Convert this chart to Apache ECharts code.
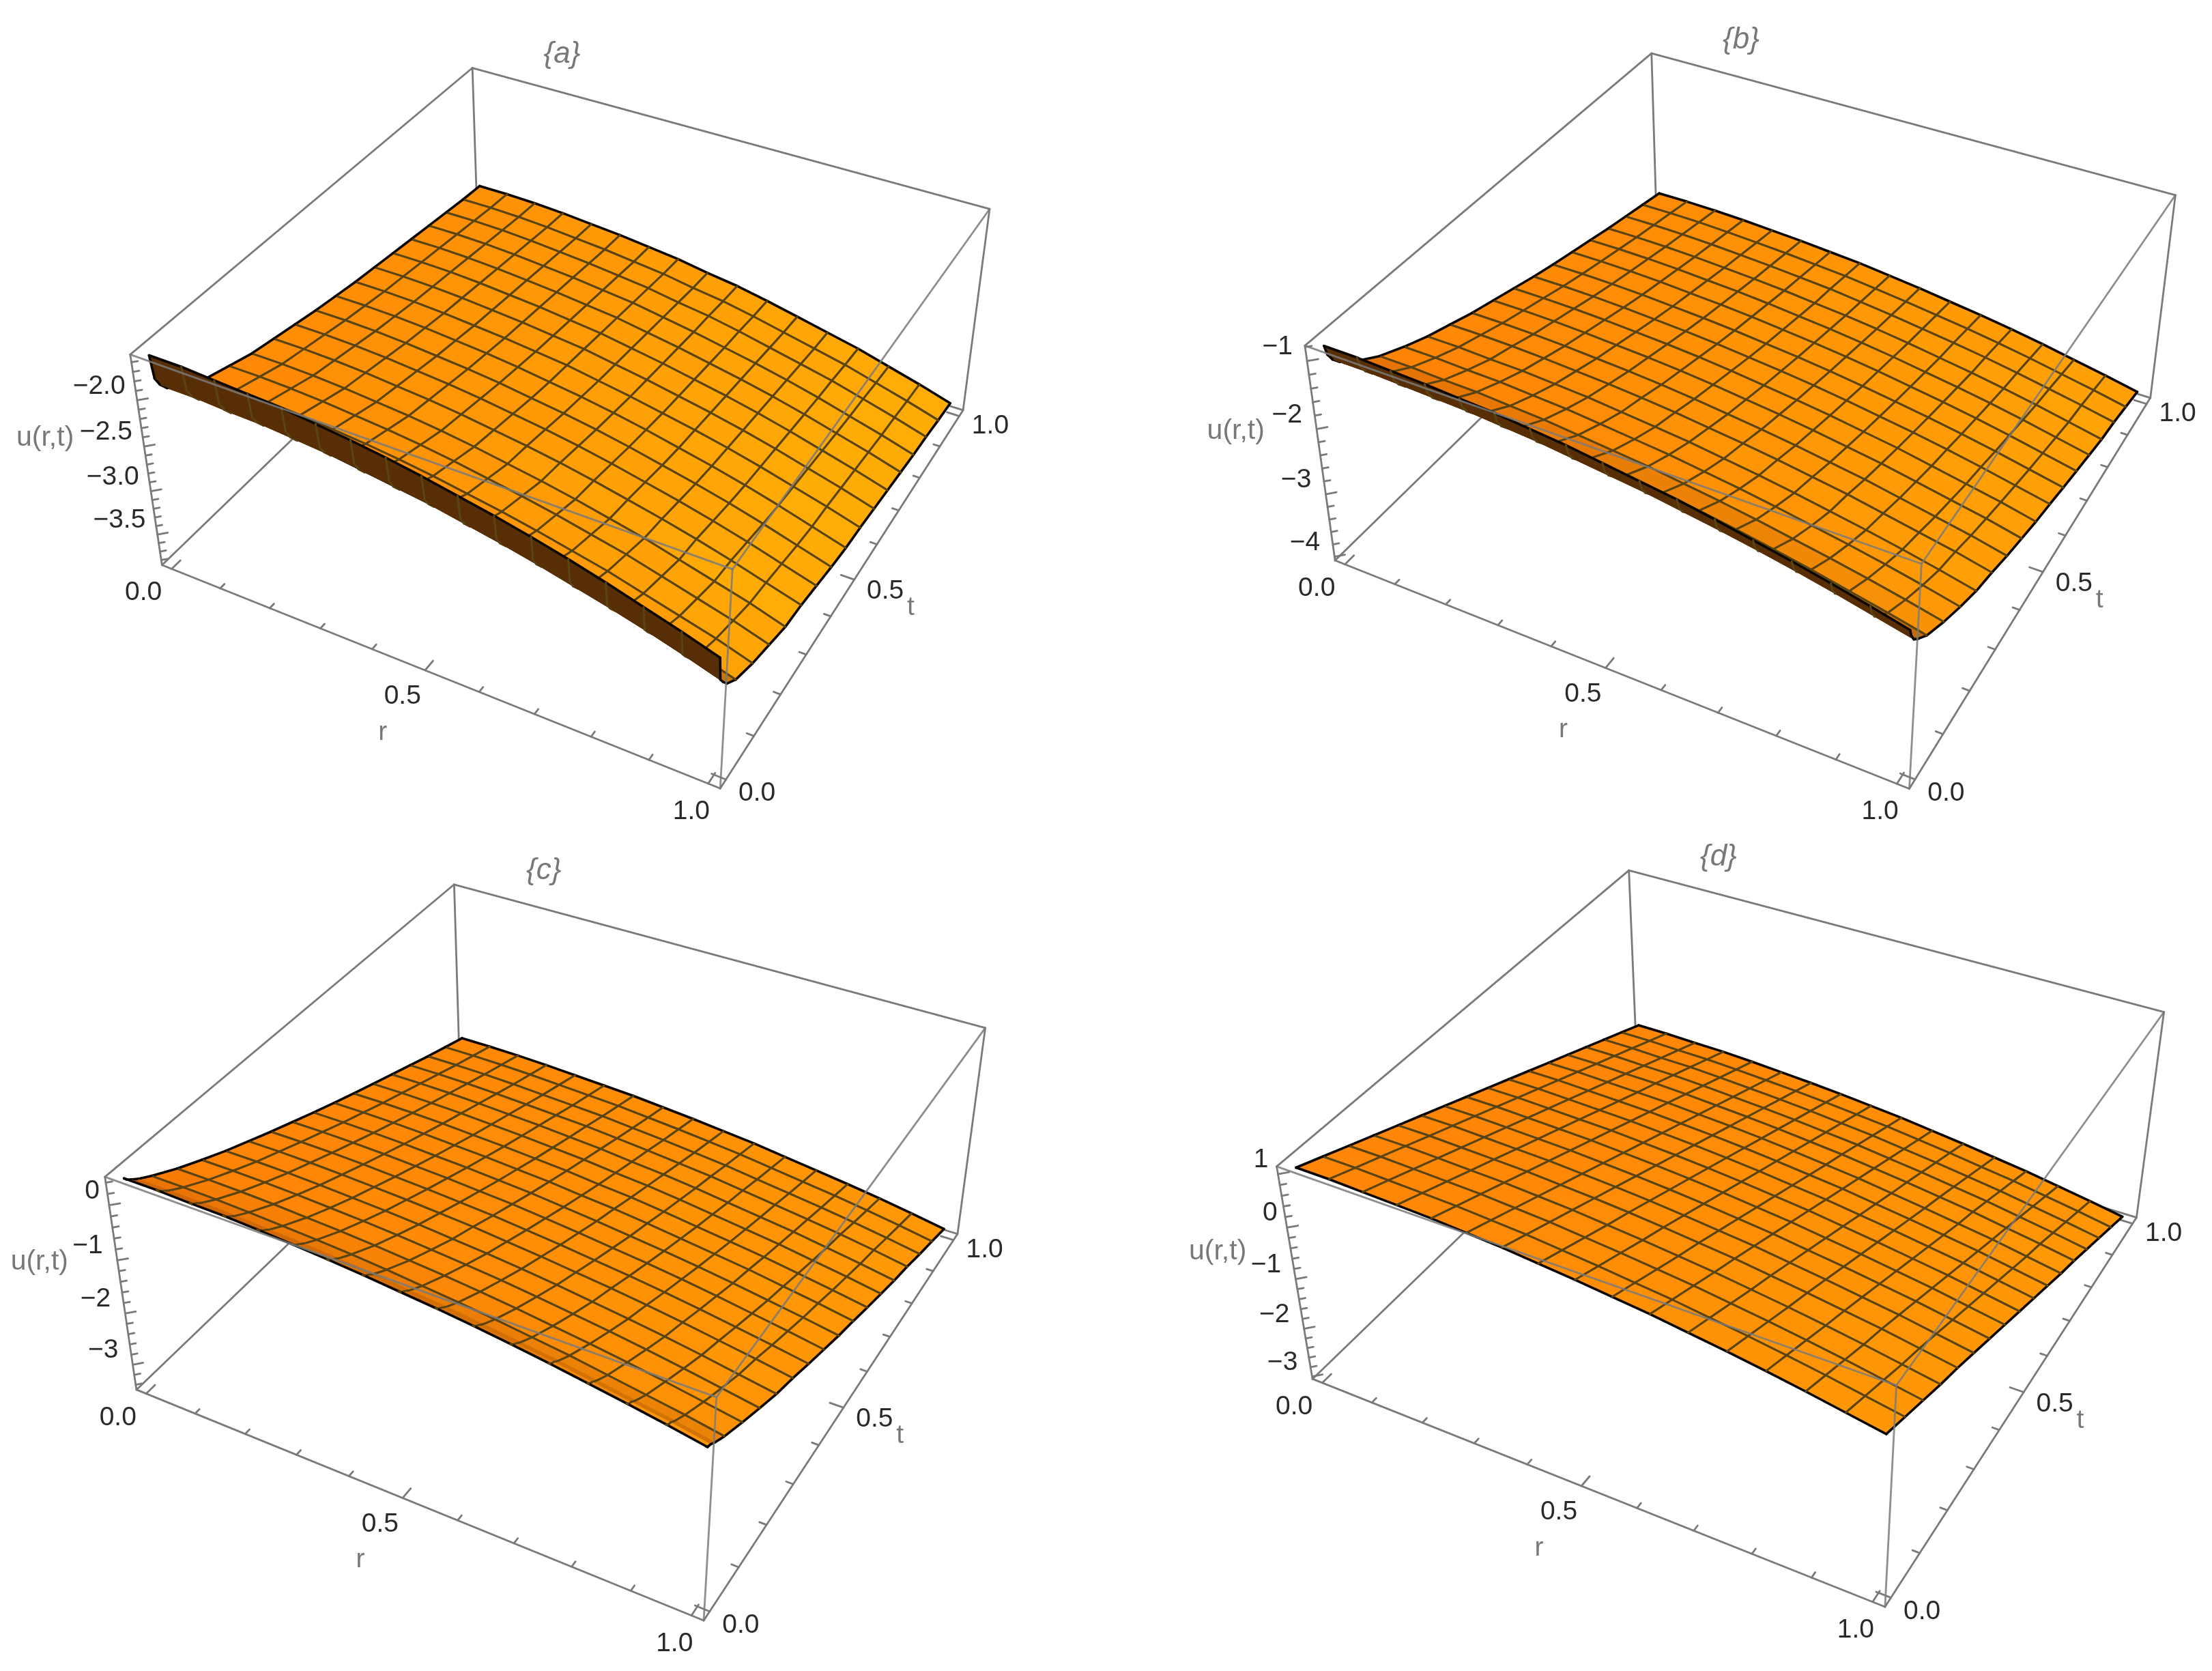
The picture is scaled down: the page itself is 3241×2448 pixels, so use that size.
<!DOCTYPE html>
<html><head><meta charset="utf-8">
<style>html,body{margin:0;padding:0;background:#fff}#c{width:3241px;height:2448px}</style>
<script src="https://cdn.jsdelivr.net/npm/echarts@6/dist/echarts.min.js"></script>
</head><body><div id="c"></div>
<script>
// ---------- data ----------
const rValues=[0,.0625,.125,.1875,.25,.3125,.375,.4375,.5,.5625,.625,.6875,.75,.8125,.875,.9375,1];
const tFine=[0,.005,.015,.03,.0625,.125,.1875,.25,.3125,.375,.4375,.5,.5625,.625,.6875,.75,.8125,.875,.9375,1];
const tMesh=[0,.0625,.125,.1875,.25,.3125,.375,.4375,.5,.5625,.625,.6875,.75,.8125,.875,.9375,1];
const uA=[
[-1.56,-1.56,-1.58,-1.60,-1.62,-1.66,-1.70,-1.75,-1.81,-1.88,-1.95,-2.03,-2.12,-2.22,-2.33,-2.44,-2.56],
[-1.82,-1.82,-1.84,-1.86,-1.88,-1.92,-1.96,-2.01,-2.07,-2.14,-2.21,-2.29,-2.38,-2.48,-2.59,-2.70,-2.82],
[-1.92,-1.92,-1.94,-1.95,-1.98,-2.01,-2.06,-2.11,-2.16,-2.23,-2.30,-2.38,-2.47,-2.56,-2.66,-2.77,-2.89],
[-2.01,-2.01,-2.03,-2.04,-2.07,-2.10,-2.15,-2.20,-2.25,-2.32,-2.39,-2.47,-2.56,-2.65,-2.75,-2.86,-2.98],
[-2.12,-2.12,-2.14,-2.15,-2.18,-2.21,-2.26,-2.31,-2.36,-2.43,-2.50,-2.58,-2.67,-2.76,-2.86,-2.97,-3.09],
[-2.25,-2.25,-2.26,-2.28,-2.31,-2.34,-2.38,-2.43,-2.49,-2.55,-2.62,-2.70,-2.78,-2.88,-2.98,-3.08,-3.20],
[-2.33,-2.33,-2.34,-2.36,-2.39,-2.42,-2.46,-2.51,-2.57,-2.63,-2.70,-2.78,-2.86,-2.96,-3.06,-3.16,-3.28],
[-2.41,-2.41,-2.42,-2.44,-2.47,-2.50,-2.54,-2.59,-2.65,-2.71,-2.78,-2.86,-2.94,-3.04,-3.14,-3.24,-3.36],
[-2.46,-2.46,-2.47,-2.49,-2.52,-2.55,-2.59,-2.64,-2.69,-2.75,-2.82,-2.90,-2.98,-3.07,-3.17,-3.28,-3.39],
[-2.51,-2.51,-2.52,-2.54,-2.57,-2.60,-2.64,-2.69,-2.74,-2.80,-2.87,-2.95,-3.03,-3.12,-3.22,-3.33,-3.44],
[-2.56,-2.56,-2.57,-2.59,-2.62,-2.65,-2.69,-2.74,-2.79,-2.85,-2.92,-3.00,-3.08,-3.17,-3.27,-3.38,-3.49],
[-2.60,-2.60,-2.61,-2.63,-2.66,-2.69,-2.73,-2.78,-2.83,-2.89,-2.96,-3.04,-3.12,-3.21,-3.31,-3.42,-3.53],
[-2.64,-2.64,-2.65,-2.67,-2.70,-2.73,-2.77,-2.81,-2.87,-2.93,-3.00,-3.07,-3.15,-3.24,-3.34,-3.44,-3.55],
[-2.67,-2.67,-2.68,-2.70,-2.73,-2.76,-2.80,-2.84,-2.90,-2.96,-3.03,-3.10,-3.18,-3.27,-3.37,-3.47,-3.58],
[-2.70,-2.70,-2.71,-2.73,-2.76,-2.79,-2.83,-2.87,-2.93,-2.99,-3.06,-3.13,-3.21,-3.30,-3.40,-3.50,-3.61],
[-2.73,-2.73,-2.74,-2.76,-2.79,-2.82,-2.86,-2.90,-2.96,-3.02,-3.09,-3.16,-3.24,-3.33,-3.43,-3.53,-3.64],
[-2.76,-2.76,-2.77,-2.79,-2.82,-2.85,-2.89,-2.93,-2.99,-3.05,-3.12,-3.19,-3.27,-3.36,-3.46,-3.56,-3.67],
[-2.79,-2.79,-2.80,-2.82,-2.85,-2.88,-2.92,-2.96,-3.02,-3.07,-3.14,-3.22,-3.30,-3.38,-3.48,-3.58,-3.69],
[-2.82,-2.82,-2.83,-2.85,-2.88,-2.91,-2.95,-2.99,-3.05,-3.10,-3.17,-3.25,-3.33,-3.41,-3.51,-3.61,-3.72],
[-2.84,-2.84,-2.85,-2.87,-2.90,-2.93,-2.97,-3.01,-3.07,-3.12,-3.19,-3.27,-3.35,-3.43,-3.53,-3.63,-3.74]];
const uB=[
[-.83,-.83,-.85,-.87,-.90,-.93,-.98,-1.03,-1.10,-1.17,-1.24,-1.33,-1.43,-1.53,-1.64,-1.76,-1.89],
[-.98,-.98,-1.00,-1.02,-1.04,-1.08,-1.12,-1.18,-1.24,-1.30,-1.38,-1.46,-1.55,-1.65,-1.76,-1.88,-2.00],
[-1.10,-1.10,-1.12,-1.14,-1.16,-1.20,-1.24,-1.30,-1.36,-1.42,-1.50,-1.58,-1.67,-1.77,-1.88,-2.00,-2.12],
[-1.21,-1.21,-1.23,-1.25,-1.27,-1.31,-1.35,-1.40,-1.46,-1.53,-1.60,-1.68,-1.77,-1.87,-1.98,-2.09,-2.21],
[-1.37,-1.37,-1.39,-1.41,-1.43,-1.47,-1.51,-1.56,-1.62,-1.69,-1.76,-1.84,-1.93,-2.03,-2.14,-2.25,-2.37],
[-1.60,-1.60,-1.62,-1.63,-1.66,-1.69,-1.74,-1.79,-1.84,-1.91,-1.98,-2.06,-2.15,-2.24,-2.34,-2.45,-2.57],
[-1.77,-1.77,-1.79,-1.80,-1.83,-1.86,-1.91,-1.96,-2.01,-2.08,-2.15,-2.23,-2.32,-2.41,-2.51,-2.62,-2.74],
[-1.92,-1.92,-1.94,-1.95,-1.98,-2.01,-2.06,-2.11,-2.16,-2.23,-2.30,-2.38,-2.47,-2.56,-2.66,-2.77,-2.89],
[-2.04,-2.04,-2.05,-2.07,-2.10,-2.13,-2.17,-2.22,-2.28,-2.34,-2.41,-2.49,-2.57,-2.67,-2.77,-2.87,-2.99],
[-2.16,-2.16,-2.17,-2.19,-2.22,-2.25,-2.29,-2.34,-2.40,-2.46,-2.53,-2.61,-2.69,-2.79,-2.89,-2.99,-3.11],
[-2.26,-2.26,-2.27,-2.29,-2.32,-2.35,-2.39,-2.44,-2.50,-2.56,-2.63,-2.71,-2.79,-2.89,-2.99,-3.09,-3.21],
[-2.36,-2.36,-2.37,-2.39,-2.42,-2.45,-2.49,-2.54,-2.60,-2.66,-2.73,-2.81,-2.89,-2.99,-3.09,-3.19,-3.31],
[-2.46,-2.46,-2.47,-2.49,-2.52,-2.55,-2.59,-2.64,-2.69,-2.75,-2.82,-2.90,-2.98,-3.07,-3.17,-3.28,-3.39],
[-2.55,-2.55,-2.56,-2.58,-2.61,-2.64,-2.68,-2.73,-2.78,-2.84,-2.91,-2.99,-3.07,-3.16,-3.26,-3.37,-3.48],
[-2.63,-2.63,-2.64,-2.66,-2.69,-2.72,-2.76,-2.81,-2.86,-2.92,-2.99,-3.07,-3.15,-3.24,-3.34,-3.45,-3.56],
[-2.71,-2.71,-2.72,-2.74,-2.77,-2.80,-2.84,-2.89,-2.94,-3.00,-3.07,-3.15,-3.23,-3.32,-3.42,-3.53,-3.64],
[-2.79,-2.79,-2.80,-2.82,-2.85,-2.88,-2.92,-2.97,-3.02,-3.08,-3.15,-3.23,-3.31,-3.40,-3.50,-3.61,-3.72],
[-2.86,-2.86,-2.87,-2.89,-2.92,-2.95,-2.99,-3.03,-3.09,-3.15,-3.22,-3.29,-3.37,-3.46,-3.56,-3.66,-3.77],
[-2.93,-2.93,-2.94,-2.96,-2.99,-3.02,-3.06,-3.10,-3.16,-3.22,-3.29,-3.36,-3.44,-3.53,-3.63,-3.73,-3.84],
[-3.00,-3.00,-3.01,-3.03,-3.06,-3.09,-3.13,-3.17,-3.23,-3.29,-3.36,-3.43,-3.51,-3.60,-3.70,-3.80,-3.91]];
const uC=[
[.42,.42,.40,.39,.36,.32,.28,.23,.17,.11,.04,-.04,-.13,-.23,-.33,-.44,-.56],
[.37,.37,.35,.34,.31,.27,.23,.18,.12,.06,-.01,-.09,-.18,-.28,-.38,-.49,-.61],
[.31,.31,.30,.28,.25,.22,.18,.13,.07,.01,-.06,-.14,-.22,-.32,-.42,-.52,-.64],
[.23,.23,.22,.20,.17,.14,.10,.05,-.01,-.07,-.14,-.22,-.30,-.40,-.50,-.60,-.72],
[.09,.09,.08,.06,.03,0,-.04,-.09,-.15,-.21,-.28,-.36,-.44,-.54,-.64,-.74,-.86],
[-.15,-.15,-.16,-.18,-.21,-.24,-.28,-.33,-.38,-.44,-.51,-.59,-.67,-.76,-.86,-.97,-1.08],
[-.36,-.36,-.37,-.39,-.42,-.45,-.49,-.54,-.59,-.65,-.72,-.80,-.88,-.97,-1.07,-1.18,-1.29],
[-.56,-.56,-.57,-.59,-.62,-.65,-.69,-.74,-.79,-.85,-.92,-1.00,-1.08,-1.17,-1.27,-1.38,-1.49],
[-.74,-.74,-.75,-.77,-.80,-.83,-.87,-.91,-.97,-1.03,-1.10,-1.17,-1.25,-1.34,-1.44,-1.54,-1.65],
[-.92,-.92,-.93,-.95,-.98,-1.01,-1.05,-1.09,-1.15,-1.21,-1.28,-1.35,-1.43,-1.52,-1.62,-1.72,-1.83],
[-1.09,-1.09,-1.10,-1.12,-1.15,-1.18,-1.22,-1.26,-1.32,-1.38,-1.45,-1.52,-1.60,-1.69,-1.79,-1.89,-2.00],
[-1.26,-1.26,-1.27,-1.29,-1.32,-1.35,-1.39,-1.43,-1.49,-1.55,-1.62,-1.69,-1.77,-1.86,-1.96,-2.06,-2.17],
[-1.42,-1.42,-1.43,-1.45,-1.48,-1.51,-1.55,-1.59,-1.65,-1.70,-1.77,-1.85,-1.93,-2.01,-2.11,-2.21,-2.32],
[-1.58,-1.58,-1.59,-1.61,-1.64,-1.67,-1.71,-1.75,-1.81,-1.86,-1.93,-2.01,-2.09,-2.17,-2.27,-2.37,-2.48],
[-1.73,-1.73,-1.74,-1.76,-1.79,-1.82,-1.86,-1.90,-1.96,-2.01,-2.08,-2.16,-2.24,-2.32,-2.42,-2.52,-2.63],
[-1.88,-1.88,-1.89,-1.91,-1.94,-1.97,-2.01,-2.05,-2.11,-2.16,-2.23,-2.31,-2.39,-2.47,-2.57,-2.67,-2.78],
[-2.03,-2.03,-2.04,-2.06,-2.09,-2.12,-2.15,-2.20,-2.25,-2.31,-2.37,-2.45,-2.53,-2.61,-2.70,-2.80,-2.91],
[-2.18,-2.18,-2.19,-2.21,-2.24,-2.27,-2.30,-2.35,-2.40,-2.46,-2.52,-2.60,-2.68,-2.76,-2.85,-2.95,-3.06],
[-2.32,-2.32,-2.33,-2.35,-2.38,-2.41,-2.44,-2.49,-2.54,-2.60,-2.66,-2.74,-2.82,-2.90,-2.99,-3.09,-3.20],
[-2.46,-2.46,-2.47,-2.49,-2.52,-2.55,-2.58,-2.63,-2.68,-2.74,-2.80,-2.88,-2.96,-3.04,-3.13,-3.23,-3.34]];
const uD=[
[1.06,1.06,1.04,1.02,1.00,.96,.92,.86,.80,.73,.66,.57,.48,.38,.27,.15,.03],
[.87,.87,.85,.83,.81,.77,.73,.67,.61,.54,.47,.38,.29,.19,.08,-.04,-.16],
[.68,.68,.66,.64,.62,.58,.54,.48,.42,.35,.28,.19,.10,0,-.11,-.23,-.35],
[.49,.49,.47,.45,.43,.39,.35,.29,.23,.16,.09,0,-.09,-.19,-.30,-.42,-.54],
[.30,.30,.28,.26,.24,.20,.16,.11,.05,-.02,-.09,-.18,-.27,-.37,-.47,-.59,-.71],
[.11,.11,.09,.07,.05,.01,-.03,-.08,-.14,-.21,-.28,-.37,-.46,-.56,-.66,-.78,-.90],
[-.08,-.08,-.10,-.12,-.14,-.18,-.22,-.27,-.33,-.40,-.47,-.56,-.65,-.75,-.85,-.97,-1.09],
[-.27,-.27,-.29,-.31,-.33,-.37,-.41,-.46,-.52,-.59,-.66,-.75,-.84,-.94,-1.04,-1.16,-1.28],
[-.46,-.46,-.48,-.50,-.52,-.56,-.60,-.65,-.71,-.78,-.85,-.94,-1.03,-1.13,-1.23,-1.35,-1.47],
[-.65,-.65,-.67,-.69,-.71,-.75,-.79,-.84,-.90,-.97,-1.04,-1.13,-1.22,-1.32,-1.42,-1.54,-1.66],
[-.84,-.84,-.86,-.88,-.90,-.94,-.98,-1.03,-1.09,-1.16,-1.23,-1.32,-1.41,-1.51,-1.61,-1.73,-1.85],
[-1.03,-1.03,-1.05,-1.07,-1.09,-1.13,-1.17,-1.22,-1.28,-1.35,-1.42,-1.51,-1.60,-1.70,-1.80,-1.92,-2.04],
[-1.22,-1.22,-1.24,-1.25,-1.28,-1.32,-1.36,-1.41,-1.47,-1.53,-1.61,-1.69,-1.78,-1.87,-1.98,-2.09,-2.21],
[-1.41,-1.41,-1.43,-1.44,-1.47,-1.51,-1.55,-1.60,-1.66,-1.72,-1.80,-1.88,-1.97,-2.06,-2.17,-2.28,-2.40],
[-1.60,-1.60,-1.62,-1.63,-1.66,-1.70,-1.74,-1.79,-1.85,-1.91,-1.99,-2.07,-2.16,-2.25,-2.36,-2.47,-2.59],
[-1.79,-1.79,-1.81,-1.82,-1.85,-1.89,-1.93,-1.98,-2.04,-2.10,-2.18,-2.26,-2.35,-2.44,-2.55,-2.66,-2.78],
[-1.98,-1.98,-2.00,-2.01,-2.04,-2.08,-2.12,-2.17,-2.23,-2.29,-2.37,-2.45,-2.54,-2.63,-2.74,-2.85,-2.97]];
// tick labels
const rTickValues=[0,.5,1], rTickLabels=['0.0','0.5','1.0'];
const tTickValues=[0,.5,1], tTickLabels=['0.0','0.5','1.0'];
const uTicksA=[-2,-2.5,-3,-3.5], uLabelsA=['\u22122.0','\u22122.5','\u22123.0','\u22123.5'];
const uTicksB=[-1,-2,-3,-4], uLabelsB=['\u22121','\u22122','\u22123','\u22124'];
const uTicksC=[0,-1,-2,-3], uLabelsC=['0','\u22121','\u22122','\u22123'];
const uTicksD=[1,0,-1,-2,-3], uLabelsD=['1','0','\u22121','\u22122','\u22123'];

// ---------- camera of each panel: where the box corners fall (1568-wide units) ----------
const K=3241/1568;
const panels=[
 {title:'{a}',u:uA,ts:tFine,range:[-3.86,-1.52],ticks:uTicksA,labels:uLabelsA,minorStep:.1,minorFrom:-3.8,uDx:-72,
  box:{A:[335,48],B:[701,148],C:[92,252],D:[520,403],E:[115,400],F:[510,559],G:[683,291]}},
 {title:'{b}',u:uB,ts:tFine,range:[-4.06,-.78],ticks:uTicksB,labels:uLabelsB,minorStep:.2,minorFrom:-4,uDx:-60,
  box:{A:[1171,38],B:[1541,137],C:[925,245],D:[1363,401],E:[946,397],F:[1353,558],G:[1525,283]}},
 {title:'{c}',u:uC,ts:tFine,range:[-3.5,.5],ticks:uTicksC,labels:uLabelsC,minorStep:.2,minorFrom:-3.4,uDx:-58,
  box:{A:[322,627],B:[697,728],C:[74,834],D:[510,991],E:[97,985],F:[497,1148],G:[680,875]}},
 {title:'{d}',u:uD,ts:tMesh,range:[-3.05,1.14],ticks:uTicksD,labels:uLabelsD,minorStep:.2,minorFrom:-3,uDx:-55,
  box:{A:[1155,617],B:[1533,716],C:[905,827],D:[1345,983],E:[930,977],F:[1336,1138],G:[1515,864]}}
];
const PAD=.02, rLo=-PAD, rHi=1+PAD, tLo=-PAD, tHi=1+PAD;
const boxFrac={A:[0,1,1],B:[1,1,1],C:[0,0,1],D:[1,0,1],E:[0,0,0],F:[1,0,0],G:[1,1,0]};

function solve(M,b){const n=b.length;M=M.map((r,i)=>r.concat(b[i]));
 for(let c=0;c<n;c++){let p=c;for(let i=c+1;i<n;i++)if(Math.abs(M[i][c])>Math.abs(M[p][c]))p=i;
  [M[c],M[p]]=[M[p],M[c]];
  for(let i=0;i<n;i++){if(i===c)continue;const f=M[i][c]/M[c][c];for(let k=c;k<=n;k++)M[i][k]-=f*M[c][k];}}
 return M.map((r,i)=>r[n]/r[i]);}
function fitCamera(box){const rows=[],rhs=[];
 for(const k in box){const [x,y,z]=boxFrac[k],X=box[k][0]*K/1000,Y=box[k][1]*K/1000;
  rows.push([x,y,z,1,0,0,0,0,-X*x,-X*y,-X*z]);rhs.push(X);
  rows.push([0,0,0,0,x,y,z,1,-Y*x,-Y*y,-Y*z]);rhs.push(Y);}
 const n=11,N=[],v=[];for(let i=0;i<n;i++){N.push(new Array(n).fill(0));v.push(0);
  rows.forEach((r,q)=>{v[i]+=r[i]*rhs[q];for(let j=0;j<n;j++)N[i][j]+=r[i]*r[j];});}
 return solve(N,v);}
function makeProject(p){const a=fitCamera(p.box),[uLo,uHi]=p.range;
 return function(r,t,u){const x=(r-rLo)/(rHi-rLo),y=(t-tLo)/(tHi-tLo),z=(u-uLo)/(uHi-uLo);
  const w=a[8]*x+a[9]*y+a[10]*z+1;
  return [1000*(a[0]*x+a[1]*y+a[2]*z+a[3])/w,1000*(a[4]*x+a[5]*y+a[6]*z+a[7])/w];};}

const BOXH=.4;
function shade(nx,ny){let g=146+105*nx-50*ny,k=1;
 if(ny>.33)k=1-.85*(ny-.33)/.67;
 return 'rgb('+Math.round(255*k)+','+Math.round(g*k)+','+Math.round(6*k)+')';}
function area(q){let s=0;for(let i=0;i<4;i++){const a=q[i],b=q[(i+1)%4];s+=a[0]*b[1]-b[0]*a[1];}return s;}

function buildCells(p,project){const cells=[],U=p.u,ts=p.ts,nr=rValues.length,uSpan=p.range[1]-p.range[0];
 const isMeshT=t=>Math.abs(t*16-Math.round(t*16))<1e-9;
 for(let j=ts.length-2;j>=0;j--)for(let i=0;i<nr-1;i++){
  const q=[[i,j],[i+1,j],[i+1,j+1],[i,j+1]].map(([a,b])=>project(rValues[a],ts[b],U[b][a]));
  const base=[[i,j],[i+1,j],[i+1,j+1],[i,j+1]].map(([a,b])=>project(rValues[a],ts[b],p.range[0]));
  const flipped=area(q)*area(base)<0;
  const i0=Math.max(0,i-1),i1=Math.min(nr-1,i+2);
  const dzr=((U[j][i1]+U[j+1][i1]-U[j][i0]-U[j+1][i0])/2/(rValues[i1]-rValues[i0]))/uSpan*BOXH;
  const dzt=((U[j+1][i]+U[j+1][i+1]-U[j][i]-U[j][i+1])/2/(ts[j+1]-ts[j]))/uSpan*BOXH;
  const len=Math.hypot(dzr,dzt,1),nx=-dzr/len,ny=-dzt/len;
  cells.push({q,fill:flipped?'rgb(88,46,6)':shade(nx,ny),
   edges:[
    {a:0,b:1,mesh:isMeshT(ts[j]),border:j===0},
    {a:1,b:2,mesh:true,border:i===nr-2},
    {a:2,b:3,mesh:isMeshT(ts[j+1]),border:j+1===ts.length-1},
    {a:3,b:0,mesh:true,border:i===0}]});
 }
 return cells;}

function surfaceSeries(p,project,idx){const cells=buildCells(p,project);
 return {type:'custom',name:'surface '+p.title,coordinateSystem:'cartesian2d',z:2,silent:true,clip:false,animation:false,
  data:cells.map(c=>c.q[0]),encode:{x:0,y:1},
  renderItem(params,api){const c=cells[params.dataIndex],pts=c.q.map(v=>api.coord(v)),children=[
    {type:'polygon',shape:{points:pts},style:{fill:c.fill,stroke:c.fill,lineWidth:1}}];
   c.edges.forEach(e=>{if(!e.mesh&&!e.border)return;
    children.push({type:'line',shape:{x1:pts[e.a][0],y1:pts[e.a][1],x2:pts[e.b][0],y2:pts[e.b][1]},
     style:{stroke:e.border?'#0a0602':'#5a4414',lineWidth:e.border?3.6:3,lineCap:'round'}});});
   return {type:'group',children};}};}

function lineSeries(name,segs,z,color,w){return {type:'custom',name,coordinateSystem:'cartesian2d',z,silent:true,clip:false,animation:false,
  data:segs,encode:{x:0,y:1},
  renderItem(params,api){const a=api.coord([api.value(0),api.value(1)]),b=api.coord([api.value(2),api.value(3)]);
   return {type:'line',shape:{x1:a[0],y1:a[1],x2:b[0],y2:b[1]},style:{stroke:color,lineWidth:w,lineCap:'round'}};}};}

function textSeries(items){return {type:'custom',name:'labels',coordinateSystem:'cartesian2d',z:5,silent:true,clip:false,animation:false,
  data:items.map(o=>o.pos),encode:{x:0,y:1},
  renderItem(params,api){const o=items[params.dataIndex],c=api.coord(o.pos);
   return {type:'text',x:c[0],y:c[1],style:{text:o.text,fontSize:o.size,fontFamily:'"Liberation Sans",Arial,sans-serif',fontStyle:o.italic?'italic':'normal',
    fill:o.color,align:'center',verticalAlign:'middle'}};}};}

const series=[],textItems=[];
const GRAY='#7a7a7a',INK='#2a2a2a',SOFT='#787878';
panels.forEach((p,idx)=>{const project=makeProject(p),[uLo,uHi]=p.range;
 const P=(r,t,u)=>project(r,t,u),seg=(a,b)=>[a[0],a[1],b[0],b[1]];
 const A=P(rLo,tHi,uHi),B=P(rHi,tHi,uHi),C=P(rLo,tLo,uHi),D=P(rHi,tLo,uHi),E=P(rLo,tLo,uLo),F=P(rHi,tLo,uLo),G=P(rHi,tHi,uLo),H=P(rLo,tHi,uLo);
 const back=[seg(A,B),seg(A,C),seg(A,H),seg(H,E),seg(H,G),seg(C,E),seg(B,G),seg(E,F),seg(F,G)];
 // axis ticks
 for(let k=0;k<=10;k++){const v=k/10,maj=k%5===0,l=maj?.024:.012;
  back.push(seg(P(v,tLo,uLo),P(v,tLo+l,uLo)));
  back.push(seg(P(rHi,v,uLo),P(rHi-l,v,uLo)));}
 for(let v=p.minorFrom;v<uHi;v+=p.minorStep){const maj=p.ticks.some(m=>Math.abs(m-v)<1e-6),l=maj?.012:.007;
  back.push(seg(P(rLo,tLo,v),P(rLo+l,tLo+l,v)));}
 series.push(lineSeries('box back '+p.title,back,1,GRAY,2.8));
 series.push(surfaceSeries(p,project,idx));
 series.push(lineSeries('box front '+p.title,[seg(C,D),seg(D,B),seg(D,F)],3,'rgba(122,122,122,.85)',2.8));
 const off=(pt,dx,dy)=>[pt[0]+dx*K,pt[1]+dy*K];
 rTickValues.forEach((v,i)=>textItems.push({pos:off(P(v,tLo,uLo),-20+8*v,17+3*v),text:rTickLabels[i],size:39,color:INK}));
 tTickValues.forEach((v,i)=>textItems.push({pos:off(P(rHi,v,uLo),22,10-3*v),text:tTickLabels[i],size:39,color:INK}));
 p.ticks.forEach((v,i)=>{const n=p.labels[i].length;textItems.push({pos:off(P(rLo,tLo,v),n>2?-27:n>1?-21:-12,-10),text:p.labels[i],size:39,color:INK});});
 textItems.push({pos:off(P(.5,tLo,uLo),-30,44),text:'r',size:39,color:SOFT});
 textItems.push({pos:off(P(rHi,.5,uLo),40,20),text:'t',size:39,color:SOFT});
 textItems.push({pos:off(P(rLo,tLo,(uLo+uHi)/2),p.uDx,-18),text:'u(r,t)',size:41,color:SOFT});
 textItems.push({pos:off(A,63.5,-9.5),text:p.title,size:44,color:SOFT,italic:true});
});
series.push(textSeries(textItems));

const chart=echarts.init(document.getElementById('c'),null,{renderer:'canvas',width:3241,height:2448});
chart.setOption({animation:false,backgroundColor:'#fff',
 grid:{left:0,top:0,width:3241,height:2448},
 xAxis:{type:'value',min:0,max:3241,show:false},
 yAxis:{type:'value',min:0,max:2448,inverse:true,show:false},
 series});
</script></body></html>
